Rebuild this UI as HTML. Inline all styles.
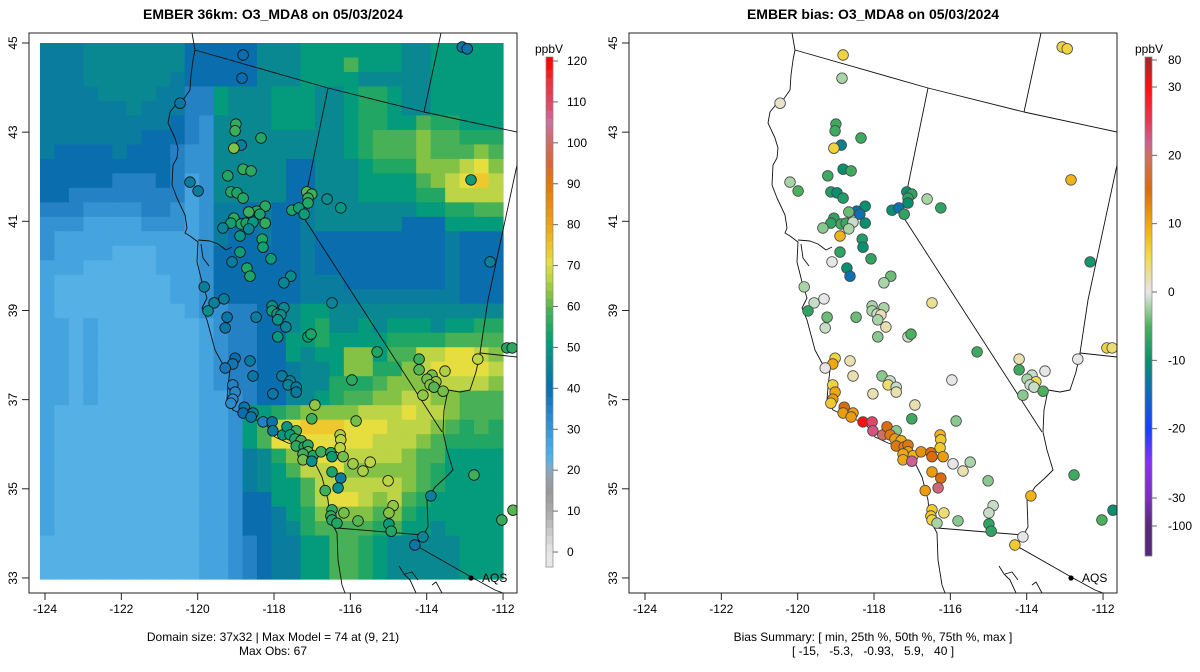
<!DOCTYPE html>
<html><head><meta charset="utf-8">
<style>
html,body{margin:0;padding:0;background:#fff;}
svg{display:block;font-family:"Liberation Sans",Arial,sans-serif;}
</style></head>
<body>
<svg id="fig" width="1200" height="672" viewBox="0 0 1200 672" xmlns="http://www.w3.org/2000/svg">
<defs>
<clipPath id="clipL"><rect x="29" y="33" width="488" height="560"/></clipPath>
</defs>
<text x="273" y="19" font-size="14" font-weight="bold" text-anchor="middle">EMBER 36km: O3_MDA8 on 05/03/2024</text>
<text x="873" y="19" font-size="14" font-weight="bold" text-anchor="middle">EMBER bias: O3_MDA8 on 05/03/2024</text>
<g id="left"></g>
<g id="right" transform="translate(600,0)"></g>
<g id="cbL"></g>
<g id="cbR"></g>
<text x="273" y="641" font-size="12" text-anchor="middle">Domain size: 37x32 | Max Model = 74 at (9, 21)</text>
<text x="273" y="655" font-size="12" text-anchor="middle">Max Obs: 67</text>
<text x="873" y="641" font-size="12" text-anchor="middle">Bias Summary: [ min, 25th %, 50th %, 75th %, max ]</text>
<text x="873" y="655" font-size="12" text-anchor="middle" xml:space="preserve">[ -15,   -5.3,   -0.93,   5.9,   40 ]</text>
</svg>
<script>
// ---- data ----
const levelCodes = "ABCDEFGHIJKLMN";
const levelValues = [23,27,31,35,40,44,47,51,55,59,63,67,71,74];
const gridRows = [
"FFFGGGGGGGEEEEEGGGHHHHHHHGGHHHHH",
"FFFGGGGGGGEEEEEGGGHHHJHHHGGHHHHH",
"FFFGGGGGGFEEEEEGGGHHHHGGGGGHHHHH",
"FFFFGGGGFFDDHGGGHHHGGHIIHGGHHHHH",
"FFFFFFGFFFDDHGGGHHHGGHIIHGGHHHHH",
"FFFFFFFFFEDCGGGGHHHGGHIIHHJIIHHH",
"FFFFFFFEEEDCGGGGGGGGGHIJJJKJJIII",
"FEEEEFEEEDCCGGGGGGGGGHIJJJKJJJKJ",
"EEEEEEEEEDCCGGGGGEEGGGHIIIKKKLMK",
"EEEEEDDDEDBCGGGGGEEGGGHHHHJKLMNL",
"EEDDDDDDDDBCGGGGGEEGGGHHHHIILLLL",
"DDDCCCCDDCBCFFEFEEFGGGGGGGHHIIJJ",
"CCCBBBBCCCBCFEEFEEFGGGGGGEEEHHHH",
"CBBBBBBBBBBCFEEFEEFEEEEEEEEEFEEE",
"CBBBBAAABBBCEEEEEEFEEEEEEEEEFEEE",
"BBBAAAAABBBCEEEEEEFEEEEEEEEEFEEE",
"BAAAAAAAABBCEEEEEEFFFEEEEEEEFEEE",
"BAAAAAAAABBCEEEEEEFFFFFFFFFFFEEE",
"BAAAAAAAAABCCDDEEGHHGGGGGGGGGGGG",
"BBABAAAAAAABCDDEEGHIGGHGHHHGHHII",
"BBABAAAAAAABCDDEEHHIHHHHIIIIJJJJ",
"BBABAAAAAAABCDDEEHGHHKKHJJLLMMLK",
"BBABAAAAAAABCDDEEFGGHKKIIKLMMMML",
"BBABAAAAAAABCDDEEFGGIIIJKKKLLLLK",
"BBABAAAAAAABBCDEEGGHIJJKKLLKKJJJ",
"BAAAAAAAAAABBCHHIJKKKKLLLMLLKJJJ",
"BAAAAAAAAAABBCHJLMNNNMMMLLLKJIJI",
"BAAAAAAAAAABBCHJMMMMMMMLLLKJIIII",
"BAAAAAAAAAABBCFGIKLMMLLLLKJJHHHH",
"BAAAAAAAAAABBCFGHJLLMKKKKKJIHHHH",
"BAAAAAAAAAABBCFGHHJLLLLLLKJIHHHH",
"BAAAAAAAAAABBCEEHHJLMMLKLJIHHHHH",
"BAAAAAAAAAABBCEEFHIKKKKJKIHHHHHH",
"BAAAAAAAAAABBCEEFGIJJJJIJHHGHHHH",
"AAAAAAAAAAABBCDEFFHHJJIHGGGGGHHH",
"AAAAAAAAAAABBCDEFFHHJJIHGGGGGHHH",
"AAAAAAAAAAABBCDEFFHHJJIHGGGGGHHH"
];
const stationLon = [-118.81,-118.84,-120.46,-119.00,-119.02,-118.34,-118.86,-119.05,-118.81,-118.60,-119.21,-120.20,-119.99,-119.13,-118.97,-118.81,-117.14,-117.01,-117.11,-117.11,-116.61,-116.25,-117.53,-117.35,-117.21,-118.23,-118.45,-118.37,-118.66,-119.05,-119.13,-118.86,-118.73,-118.55,-118.23,-119.34,-118.66,-118.89,-118.31,-118.29,-118.89,-118.08,-119.10,-118.71,-118.63,-117.56,-117.74,-119.83,-119.31,-119.57,-119.73,-118.05,-117.74,-116.48,-113.07,-112.94,-112.84,-112.34,-119.23,-118.47,-119.28,-118.05,-117.92,-117.82,-117.90,-117.69,-117.90,-117.11,-117.03,-115.30,-119.02,-118.63,-119.08,-119.28,-118.55,-117.79,-117.58,-117.63,-117.42,-117.42,-118.03,-115.96,-119.08,-119.02,-119.08,-119.13,-118.78,-118.81,-118.55,-118.60,-118.29,-118.05,-118.03,-117.77,-117.66,-117.42,-117.58,-117.45,-117.29,-117.42,-117.21,-117.11,-117.11,-116.98,-117.24,-117.24,-117.01,-116.77,-116.51,-116.48,-116.27,-116.25,-116.27,-116.19,-115.93,-115.67,-115.48,-116.48,-116.25,-116.32,-116.66,-117.01,-116.93,-115.85,-115.01,-116.48,-116.51,-116.48,-116.17,-116.35,-115.80,-114.88,-114.99,-114.99,-114.93,-114.10,-114.31,-113.89,-114.20,-112.66,-114.20,-113.86,-113.99,-113.76,-113.91,-113.81,-113.52,-113.57,-114.10,-111.90,-111.76,-112.76,-112.03,-111.74];
const stationLat = [44.73,44.21,43.65,43.18,43.03,42.87,42.71,42.64,42.17,42.13,42.02,41.88,41.68,41.66,41.64,41.52,41.66,41.61,41.52,41.41,41.50,41.30,41.25,41.30,41.16,41.34,41.23,41.16,41.21,41.07,40.96,40.94,40.96,40.98,40.96,40.85,40.83,40.67,40.60,40.42,40.31,40.16,40.09,39.95,39.77,39.77,39.62,39.53,39.26,39.17,38.99,39.10,39.06,39.17,44.91,44.87,41.93,40.09,38.85,38.85,38.61,38.99,38.92,38.90,38.79,38.63,38.41,38.41,38.47,38.07,37.93,37.87,37.80,37.71,37.53,37.53,37.42,37.33,37.28,37.17,37.13,37.44,37.33,37.17,37.01,36.92,36.83,36.70,36.70,36.61,36.50,36.50,36.30,36.21,36.39,36.30,36.21,36.12,36.08,35.96,35.94,35.98,35.83,35.74,35.78,35.65,35.62,35.83,35.81,35.72,36.21,36.10,35.92,35.72,35.56,35.40,35.60,35.38,35.24,35.02,34.96,36.57,36.88,36.52,35.18,34.53,34.39,34.30,34.46,34.23,34.28,34.62,34.46,34.21,34.05,33.92,33.74,34.84,37.91,37.91,37.67,37.55,37.46,37.40,37.33,37.28,37.64,37.19,37.10,38.16,38.16,35.31,34.30,34.52];
const obsValues = [40,40,43,57,58,55,44,63,57,56,55,44,44,55,54,55,60,58,57,55,48,50,54,52,52,56,56,54,58,56,53,55,54,50,57,46,47,50,55,53,52,52,44,55,54,48,46,44,44,45,48,48,47,46,42,42,52,45,42,44,42,52,50,48,49,46,50,52,54,55,40,43,38,38,42,44,45,46,44,43,42,56,35,34,33,33,42,40,44,42,35,42,44,50,50,58,52,55,58,56,55,56,60,55,58,62,48,58,55,52,66,67,67,62,65,66,67,54,44,48,58,58,64,62,67,56,57,55,62,55,60,64,63,52,55,46,42,45,58,67,60,62,62,64,63,60,66,62,64,55,56,58,57,60];
const biasValues = [6,-2,1,-6,-6,-6,-12,6,-10,-6,-6,-2,-5,-8,-10,-8,-10,-7,-7,-10,-2,-7,-10,-14,-7,-10,-14,-14,-4,-7,-7,-6,-6,-1,-10,-3,-2,9,-8,-10,-7,-7,0,-10,-14,-4,-2,-2,0,-1,-7,-2,-2,3,6,6,9,-9,-4,-4,-1,-2,-1,2,-2,2,-3,-1,-5,-6,6,2,10,0,2,-3,-1,4,-1,2,2,0,6,10,11,7,15,11,11,11,30,24,23,20,15,-3,14,11,10,14,13,14,11,9,10,10,22,12,15,15,9,7,7,11,0,2,-2,11,15,21,11,-6,2,-3,-3,7,7,6,4,-2,-3,-1,-1,-7,-7,0,7,9,2,0,-6,-1,-2,5,-1,-1,0,-5,-3,6,4,-6,-5,-10];
const lonTicks = [-124,-122,-120,-118,-116,-114,-112];
const latTicks = [45,43,41,39,37,35,33];
const o3Ticks = [0,10,20,30,40,50,60,70,80,90,100,110,120];
const biasTicks = [80,30,20,10,0,-10,-20,-30,-100];

// ---- scales ----
function xScale(lon){return 45 + (lon+124)*38.17;}
function yScale(lat){return 43 + (45-lat)*44.58;}
const NS="http://www.w3.org/2000/svg";
function mk(tag,attrs,parent){const e=document.createElementNS(NS,tag);for(const k in attrs)e.setAttribute(k,attrs[k]);if(parent)parent.appendChild(e);return e;}
function hex(h){return [parseInt(h.substr(1,2),16),parseInt(h.substr(3,2),16),parseInt(h.substr(5,2),16)];}
function interp(stops,v){
  if(v<=stops[0][0])return stops[0][1];
  for(let i=1;i<stops.length;i++){if(v<=stops[i][0]){const a=stops[i-1],b=stops[i];const t=(v-a[0])/(b[0]-a[0]);const ca=hex(a[1]),cb=hex(b[1]);return "rgb("+ca.map((c,j)=>Math.round(c+(cb[j]-c)*t)).join(",")+")";}}
  return stops[stops.length-1][1];
}
const o3Stops=[[0,"#e8e8e8"],[10,"#a9a9a9"],[15,"#999999"],[20,"#8ca6ba"],[23,"#55b0e6"],[27,"#45a3de"],[31,"#3592d2"],[35,"#2481c4"],[40,"#0a6eae"],[44,"#0a7c9e"],[47,"#0a8892"],[51,"#049a7c"],[55,"#22a664"],[59,"#48b056"],[63,"#84c246"],[67,"#bcd445"],[71,"#e6de3e"],[74,"#eec82c"],[80,"#eba414"],[90,"#e07a0a"],[95,"#d5683a"],[100,"#cc6e60"],[105,"#c8709e"],[110,"#e04565"],[115,"#f0303a"],[120,"#ff0000"]];
const biasStops=[[-100,"#5a2878"],[-30,"#7a2fc0"],[-25,"#8a30f0"],[-20,"#1540ff"],[-15,"#1068c0"],[-10,"#079070"],[-5,"#4cb05c"],[-2,"#a8d4a8"],[0,"#e6e6e6"],[2,"#e8e0b0"],[5,"#f0dc50"],[8,"#f0c020"],[10,"#f0a810"],[15,"#dc6c0c"],[20,"#d07060"],[22,"#cc6090"],[25,"#e63a55"],[30,"#ff1010"],[80,"#a82828"]];
function o3Color(v){return interp(o3Stops,v);}
function biasColor(v){return interp(biasStops,v);}

// ---- basemap (pixel geometry of panel) ----
const basemap = [
"M192,33 L195,50 L193,60 L191,75 L190,90 L183,100 L178,102 L170,112 L168,123 L175,138 L178,148 L177,158 L173,165 L172,185 L177,198 L185,215 L187,228 L185,233 L190,236 L198,242 L197,262 L202,282 L207,298 L202,308 L207,320 L215,350 L222,363 L230,370 L228,387 L227,400 L233,410 L248,417 L265,423 L275,437 L288,443 L302,447 L312,457 L322,477 L328,500 L330,520 L337,533 L338,560 L342,585 L345,593",
"M198,240 L210,241 L218,244 L226,250 L232,247 M201,244 L203,258 L209,266",
"M195,50 L328,88 L424,112 L517,132",
"M328,88 L302,215 L442,432",
"M441,33 L424,112",
"M517,165 L488,300 L480,353 L517,357",
"M480,353 L476,372 L470,390 L460,392 L448,390 L444,410 L443,432 L447,450 L453,470 L445,478 L435,487 L427,500 L428,527 L422,537 L418,545",
"M337,528 L423,535",
"M415,545 L473,578 L495,590 L503,593",
"M399,566 L404,574 L410,580 L416,593 M405,574 L412,572 L418,580 M432,585 L436,582 L442,593"
];

function drawPanel(g,isBias){
  const inner = mk("g",{"clip-path":"url(#clipL)"},g);
  if(!isBias){
    const grid = mk("g",{},inner);
    
    
    const nR=gridRows.length, nC=32;
    const x0=40,x1=503,y0=43,y1=579;
    const cw=(x1-x0)/nC, ch=(y1-y0)/nR;
    for(let r=0;r<nR;r++){
      const row=gridRows[r];
      for(let c=0;c<nC;c++){
        const code=row[c]||row[row.length-1];
        const v=levelValues[levelCodes.indexOf(code)];
        const cell=mk("rect",{x:(x0+c*cw).toFixed(2),y:(y0+r*ch).toFixed(2),width:(cw+0.6).toFixed(2),height:(ch+0.6).toFixed(2),fill:o3Color(v)},grid);
        
        
      }
    }
  }
  const bm=mk("g",{fill:"none",stroke:"#111","stroke-width":"0.9","stroke-linejoin":"round"},inner);
  
  
  basemap.forEach(d=>mk("path",{d:d},bm));
  const pts=mk("g",{},inner);
  
  
  for(let i=0;i<stationLon.length;i++){
    const v = isBias ? biasValues[i] : obsValues[i];
    const c=mk("circle",{cx:xScale(stationLon[i]).toFixed(1),cy:yScale(stationLat[i]).toFixed(1),r:"5.3",fill:isBias?biasColor(v):o3Color(v),stroke:isBias?"#444":"#111","stroke-width":"0.8"},pts);
    
    
  }
  const aq=mk("circle",{cx:471,cy:578,r:2.6,fill:"#000"},inner);
  
  
  const at=mk("text",{x:482,y:582,"font-size":"12"},g); at.textContent="AQS";
  
  
  const box=mk("rect",{x:29,y:33,width:488,height:560,fill:"none",stroke:"#222","stroke-width":"1"},g);
  
  
  lonTicks.forEach(t=>{
    const x=xScale(t);
    mk("line",{x1:x,y1:593,x2:x,y2:600,stroke:"#222"},g);
    const tl=mk("text",{x:x,y:613,"font-size":"12","text-anchor":"middle"},g); tl.textContent=String(t);
    
    
  });
  latTicks.forEach(t=>{
    const y=yScale(t);
    mk("line",{x1:22,y1:y,x2:29,y2:y,stroke:"#222"},g);
    const tl=mk("text",{x:0,y:0,"font-size":"12","text-anchor":"middle",transform:"translate(17,"+y+") rotate(-90)"},g); tl.textContent=String(t);
    
    
  });
}
drawPanel(document.getElementById("left"),false);
drawPanel(document.getElementById("right"),true);

// ---- colorbars ----
(function(){
  const g=document.getElementById("cbL");
  const top=57,bot=567,x=546,w=7;
  const yV=v=>552-(v)*(552-61)/120;
  for(let v=-4;v<124;v+=2){
    const ya=Math.max(top,yV(v+2)), yb=Math.min(bot,yV(v));
    if(yb<=ya)continue;
    mk("rect",{x:x,y:ya,width:w,height:yb-ya+0.5,fill:o3Color(Math.max(0,v+1))},g);
  }
  mk("rect",{x:x,y:top,width:w,height:bot-top,fill:"none",stroke:"#888","stroke-width":"0.7"},g);
  o3Ticks.forEach(t=>{const y=yV(t);mk("line",{x1:x+w,y1:y,x2:x+w+5,y2:y,stroke:"#666"},g);
    const tl=mk("text",{x:567,y:y+4,"font-size":"12"},g);tl.textContent=String(t);
    
    });
  const u=mk("text",{x:549,y:53,"font-size":"12","text-anchor":"middle"},g);u.textContent="ppbV";
  
  
})();
(function(){
  const g=document.getElementById("cbR");
  const top=57,bot=556,x=1145,w=7;
  function yB(v){
    if(v>=30) return 87-(v-30)*(27/50);
    if(v<=-30) return 498+(-30-v)*(28/70);
    return 292-v*(205/30);
  }
  for(let py=top;py<bot;py+=1){
    let v;
    if(py<=87) v=30+(87-py)*(50/27);
    else if(py>=498) v=-30-(py-498)*(70/28);
    else v=(292-py)*(30/205);
    mk("rect",{x:x,y:py,width:w,height:1.3,fill:biasColor(v)},g);
  }
  mk("rect",{x:x,y:top,width:w,height:bot-top,fill:"none",stroke:"#888","stroke-width":"0.7"},g);
  biasTicks.forEach(t=>{const y=yB(t);mk("line",{x1:x+w,y1:y,x2:x+w+5,y2:y,stroke:"#666"},g);
    const tl=mk("text",{x:1168,y:y+4,"font-size":"12"},g);tl.textContent=String(t);
    
    });
  const u=mk("text",{x:1149,y:53,"font-size":"12","text-anchor":"middle"},g);u.textContent="ppbV";
  
  
})();
</script>
</body></html>
